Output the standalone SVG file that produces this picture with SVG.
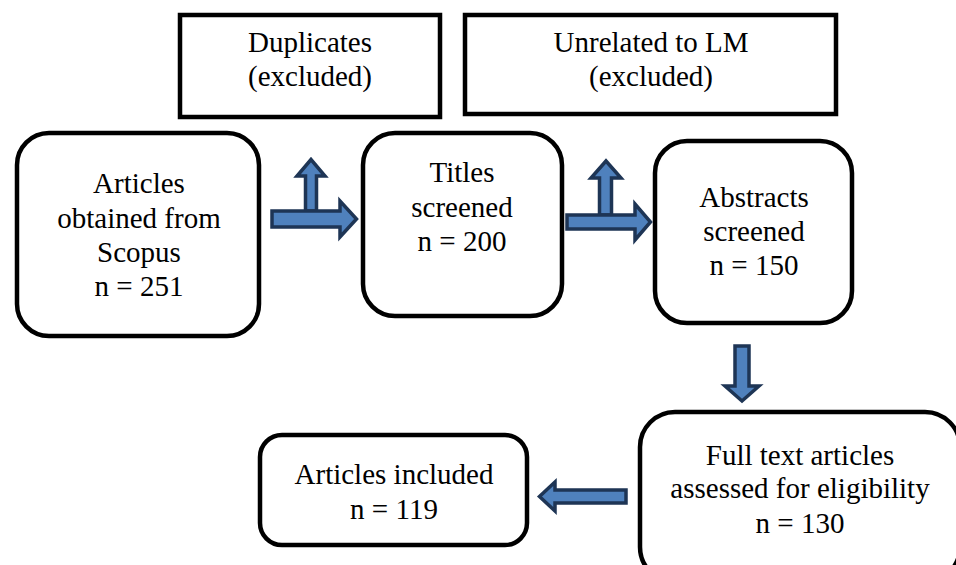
<svg xmlns="http://www.w3.org/2000/svg" width="956" height="565" viewBox="0 0 956 565">
<style>
.box{fill:#fff;stroke:#000;stroke-width:4.5}
.arr{fill:#4F81BD;stroke:#1E3555;stroke-width:3.5;stroke-linejoin:miter}
.t{font-family:'Liberation Serif','Tinos','Times New Roman','DejaVu Serif',serif;font-size:29px;fill:#000;text-anchor:middle}
</style>
<rect width="956" height="565" fill="#fff"/>
<g id="dup">
<rect class="box" x="180" y="15" width="260" height="102"/>
<text class="t" font-family="Liberation Serif, serif" x="310" y="52">Duplicates</text>
<text class="t" font-family="Liberation Serif, serif" x="310" y="86">(excluded)</text>
</g>
<g id="unrel">
<rect class="box" x="465" y="15" width="371" height="99"/>
<text class="t" x="651" y="52">Unrelated to LM</text>
<text class="t" x="651" y="86">(excluded)</text>
</g>
<g id="scopus">
<rect class="box" x="17" y="133" width="242" height="203" rx="32"/>
<text class="t" x="139" y="193">Articles</text>
<text class="t" x="139" y="228">obtained from</text>
<text class="t" x="139" y="262">Scopus</text>
<text class="t" x="139" y="296">n = 251</text>
</g>
<g id="titles">
<rect class="box" x="363" y="133" width="199" height="183" rx="32"/>
<text class="t" x="462" y="182">Titles</text>
<text class="t" x="462" y="217">screened</text>
<text class="t" x="462" y="251">n = 200</text>
</g>
<g id="abstracts">
<rect class="box" x="655" y="141" width="197" height="182" rx="32"/>
<text class="t" x="754" y="207">Abstracts</text>
<text class="t" x="754" y="241">screened</text>
<text class="t" x="754" y="275">n = 150</text>
</g>
<g id="fulltext">
<rect class="box" x="640" y="412" width="320" height="170" rx="35"/>
<text class="t" x="800" y="465">Full text articles</text>
<text class="t" x="800" y="498">assessed for eligibility</text>
<text class="t" x="800" y="533">n = 130</text>
</g>
<g id="included">
<rect class="box" x="260" y="435" width="267" height="110" rx="22"/>
<text class="t" x="394" y="484">Articles included</text>
<text class="t" x="394" y="519">n = 119</text>
</g>
<g id="connectors">
<path class="arr" d="M305.5,211 L305.5,176 L297,176 L311,159.5 L325,176 L316.5,176 L316.5,211 Z"/>
<path class="arr" d="M272,211 L340,211 L340,201 L356.5,219 L340,237 L340,227 L272,227 Z"/>
<path class="arr" d="M599.5,215 L599.5,178 L591,178 L606,161 L621,178 L611.5,178 L611.5,215 Z"/>
<path class="arr" d="M567,215 L635,215 L635,204 L650.5,222 L635,240 L635,229 L567,229 Z"/>
<path class="arr" d="M735,346 L749,346 L749,386 L759,386 L742,401 L725,386 L735,386 Z"/>
<path class="arr" d="M626,490 L555,490 L555,482 L539.5,496.5 L555,511 L555,503 L626,503 Z"/>
</g>
</svg>
